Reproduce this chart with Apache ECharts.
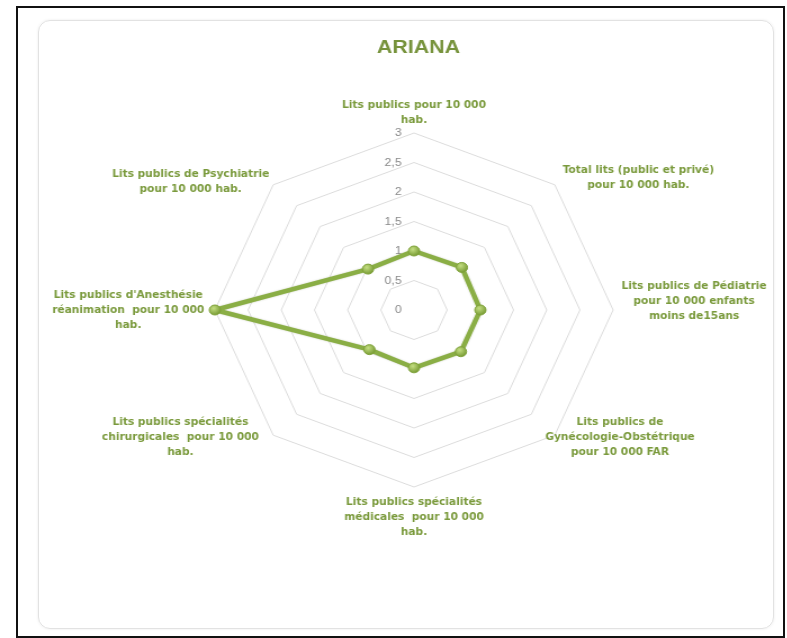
<!DOCTYPE html>
<html><head><meta charset="utf-8">
<script src="https://cdn.jsdelivr.net/npm/echarts@6/dist/echarts.min.js"></script>
<style>
html,body{margin:0;padding:0;background:#fff;width:787px;height:638px;overflow:hidden;}
#frame{position:absolute;left:16px;top:6px;width:765px;height:628px;border:2px solid #111;}
#card{position:absolute;left:38px;top:20px;width:734px;height:607px;border:1px solid #e2e2e2;border-radius:12px;box-shadow:0 0 3px rgba(0,0,0,0.08);}
#chart{position:absolute;left:0;top:0;width:700px;height:638px;transform:scaleX(1.125);transform-origin:0 0;}
</style></head>
<body>
<div id="frame"></div><div id="card"></div><div id="chart"></div>
<script>
// ---- data (clockwise from top, as in the reference) ----
const chartTitle = 'ARIANA';
const categories = [
  'Lits publics pour 10 000\nhab.',
  'Total lits (public et privé)\npour 10 000 hab.',
  'Lits publics de Pédiatrie\npour 10 000 enfants\nmoins de15ans',
  'Lits publics de\nGynécologie-Obstétrique\npour 10 000 FAR',
  'Lits publics spécialités\nmédicales  pour 10 000\nhab.',
  'Lits publics spécialités\nchirurgicales  pour 10 000\nhab.',
  "Lits publics d'Anesthésie\nréanimation  pour 10 000\nhab.",
  'Lits publics de Psychiatrie\npour 10 000 hab.'
];
const values = [1.0, 1.02, 1.0, 1.0, 0.98, 0.95, 3.0, 0.98];
const tickLabels = ['0', '0,5', '1', '1,5', '2', '2,5', '3'];
const axisMax = 3;

// ---- label layout (positions / styles only) ----
const nameLayout = [
  { gap: 5 },
  { gap: 10 },
  { gap: 72, align: 'center', bottomSpace: 18 },
  { gap: -12, topSpace: 21 },
  { gap: 8 },
  { gap: 18, bottomSpace: 22 },
  { gap: 77, align: 'center' },
  { gap: 5 }
];

const labelColor = '#7A9A3C';
const fontFam = '"Liberation Sans Narrow", "DejaVu Sans Condensed", "Liberation Sans", sans-serif';
const fontSize = 10.5;

function richName(text, lay) {
  let s = text.split('\n').map(function (l) { return '{c|' + l + '}'; }).join('\n');
  if (lay.topSpace) s = '{t| }\n' + s;
  if (lay.bottomSpace) s = s + '\n{b| }';
  return s;
}

// ECharts lays indicators counter-clockwise; reorder so the picture runs clockwise
const order = [0, 7, 6, 5, 4, 3, 2, 1];
const indicators = order.map(function (i, k) {
  const lay = nameLayout[i];
  const ind = {
    name: richName(categories[i], lay),
    max: axisMax,
    min: 0,
    nameGap: lay.gap,
    nameTextStyle: {
      color: labelColor, fontFamily: fontFam, fontSize: fontSize, fontWeight: 'bold', lineHeight: 15,
      rich: {
        c: { align: 'center', color: labelColor, fontFamily: fontFam, fontSize: fontSize, fontWeight: 'bold', lineHeight: 15 },
        t: { fontSize: 1, lineHeight: lay.topSpace || 1 },
        b: { fontSize: 1, lineHeight: lay.bottomSpace || 1 }
      }
    }
  };
  if (lay.align) ind.nameTextStyle.align = lay.align;
  if (k === 0) {
    ind.axisLabel = {
      show: true, margin: 11, color: '#8a8a8a', fontSize: 11,
      fontFamily: '"Liberation Sans", sans-serif',
      formatter: function (v) { return tickLabels[Math.round(v / 0.5)]; }
    };
  }
  return ind;
});
const seriesData = order.map(function (i) { return values[i]; });

const chart = echarts.init(document.getElementById('chart'), null, { renderer: 'canvas' });
chart.setOption({
  animation: false,
  backgroundColor: 'transparent',
  title: {
    text: chartTitle, left: 367, top: 33, textAlign: 'center',
    textStyle: { color: '#77933C', fontSize: 19, fontWeight: 'bold', fontFamily: '"Liberation Sans", sans-serif' }
  },
  radar: {
    center: [368, 310],
    radius: 177,
    startAngle: 90,
    splitNumber: 6,
    shape: 'polygon',
    indicator: indicators,
    axisName: { color: labelColor, fontFamily: fontFam, fontSize: fontSize, fontWeight: 'bold' },
    axisLine: { show: false },
    axisTick: { show: false },
    axisLabel: { show: false },
    splitLine: { lineStyle: { color: '#DCDCDC', width: 1 } },
    splitArea: { show: false }
  },
  series: [{
    type: 'radar',
    symbol: 'circle',
    symbolSize: 10,
    lineStyle: { color: '#8AAE45', width: 4.5, shadowColor: 'rgba(60,80,20,0.25)', shadowBlur: 2 },
    itemStyle: {
      color: new echarts.graphic.RadialGradient(0.4, 0.35, 0.7, [
        { offset: 0, color: '#C4DE82' },
        { offset: 1, color: '#6E932A' }
      ]),
      borderColor: '#7FA23A', borderWidth: 1
    },
    data: [{ value: seriesData, name: chartTitle }]
  }]
});
</script>
</body></html>
